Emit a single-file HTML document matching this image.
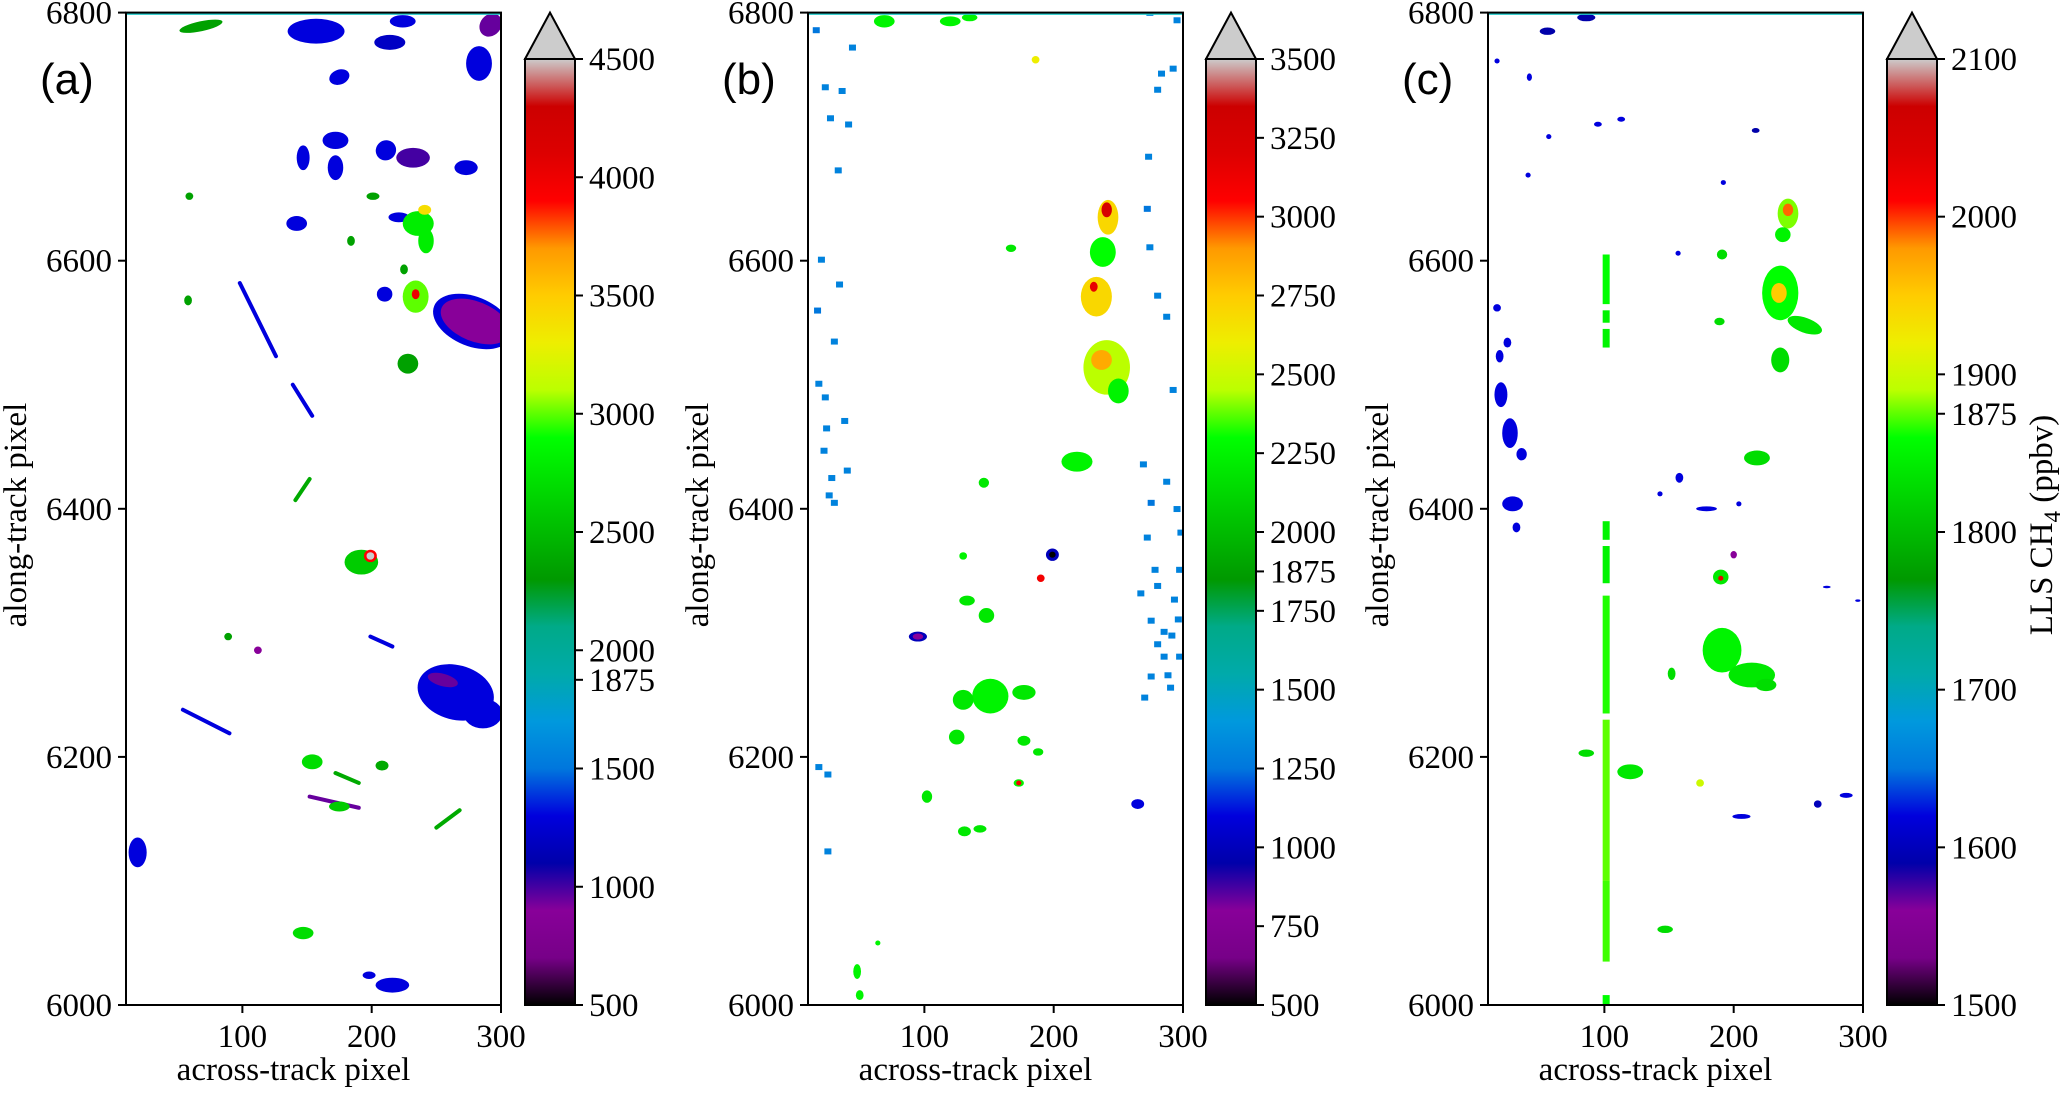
<!DOCTYPE html>
<html><head><meta charset="utf-8">
<style>
html,body{margin:0;padding:0;background:#fff;}
svg{display:block;}
svg text{font-family:'Liberation Serif', 'DejaVu Serif', serif;}
svg text.plab{font-family:'Liberation Sans', 'DejaVu Sans', sans-serif;}
</style></head>
<body>
<svg id="fig" width="2067" height="1096" viewBox="0 0 2067 1096" xmlns="http://www.w3.org/2000/svg">
<defs>
<linearGradient id="nipy" x1="0" y1="1" x2="0" y2="0">
<stop offset="0" stop-color="#000000"/><stop offset="0.05" stop-color="#770088"/><stop offset="0.10" stop-color="#880099"/>
<stop offset="0.15" stop-color="#0000aa"/><stop offset="0.20" stop-color="#0000dd"/><stop offset="0.25" stop-color="#0077dd"/>
<stop offset="0.30" stop-color="#0099dd"/><stop offset="0.35" stop-color="#00aaaa"/><stop offset="0.40" stop-color="#00aa88"/>
<stop offset="0.45" stop-color="#009900"/><stop offset="0.50" stop-color="#00bb00"/><stop offset="0.55" stop-color="#00dd00"/>
<stop offset="0.60" stop-color="#00ff00"/><stop offset="0.65" stop-color="#bbff00"/><stop offset="0.70" stop-color="#eeee00"/>
<stop offset="0.75" stop-color="#ffcc00"/><stop offset="0.80" stop-color="#ff9900"/><stop offset="0.85" stop-color="#ff0000"/>
<stop offset="0.90" stop-color="#dd0000"/><stop offset="0.95" stop-color="#cc0000"/><stop offset="1" stop-color="#cccccc"/>
</linearGradient>
</defs>
</svg>
<script>
// ---------- DATA (data units: across-track pixel, along-track pixel, value) ----------
// Panel (a) blobs: [x, y, rx, ry, angleDeg, value]
const blobsA = [
[68,6789,17,4,-12,2350],[157,6785,22,10,0,1300],[175,6748,8,6,-20,1300],[214,6776,12,6,0,1200],
[224,6793,10,5,0,1300],[292,6790,8,10,40,950],[283,6759,10,14,0,1300],[172,6697,10,7,0,1300],
[147,6683,5,10,0,1300],[172,6675,6,10,0,1300],[211,6689,8,8,-40,1300],[232,6683,13,8,0,1000],
[273,6675,9,6,0,1300],[142,6630,8,6,0,1300],[221,6635,8,4,0,1300],
[236,6630,12,10,0,2800],[241,6641,5,4,0,3400],[242,6616,6,10,0,2800],
[234,6571,10,13,0,3000],[234,6573,3,4,0,4000],[210,6573,6,6,0,1300],
[278,6551,32,20,22,1300],[280,6551,28,16,22,900],
[228,6517,8,8,0,2350],[265,6252,30,22,15,1300],[286,6235,15,12,0,1300],[255,6262,12,5,15,950],
[192,6357,13,10,0,2600],[199,6362,5,5,0,3900],[199,6362,3,3,0,4500],
[154,6196,8,6,0,2700],[208,6193,5,4,0,2400],[19,6123,7,12,0,1300],[147,6058,8,5,0,2700],
[216,6016,13,6,0,1300],[198,6024,5,3,0,1300],[112,6286,3,3,0,900],
[59,6652,3,3,0,2350],[58,6568,3,4,0,2350],[89,6297,3,3,0,2350],[225,6593,3,4,0,2350],
[184,6616,3,4,0,2350],[201,6652,5,3,0,2350],[175,6160,8,4,0,2600]
];
// Panel (a) streaks: [x1, y1, x2, y2, value]
const streaksA = [
[98,6582,126,6523,1300],[139,6500,154,6475,1300],[141,6407,152,6424,2400],[54,6238,90,6219,1300],
[199,6297,216,6289,1300],[152,6168,190,6159,950],[250,6143,268,6157,2400],[172,6187,190,6179,2400]
];
// Panel (b) blobs
const blobsB = [
[242,6635,8,14,0,2700],[241,6641,4,6,0,3250],[238,6607,10,12,0,2300],[233,6571,12,16,0,2700],
[231,6579,3,4,0,3150],[241,6514,18,22,0,2450],[237,6520,8,8,0,2850],[250,6495,8,10,0,2250],
[218,6438,12,8,0,2250],[199,6363,5,5,0,1000],[199,6363,2.5,2.5,0,500],[190,6344,3,3,0,3100],
[95,6297,7,4,0,1000],[95,6297,4,2.5,0,800],
[151,6249,14,14,0,2250],[130,6246,8,8,0,2200],[177,6252,9,6,0,2200],[125,6216,6,6,0,2200],
[148,6314,6,6,0,2200],[133,6326,6,4,0,2200],[177,6213,5,4,0,2200],[188,6204,4,3,0,2200],
[102,6168,4,5,0,2200],[131,6140,5,4,0,2200],[143,6142,5,3,0,2200],[146,6421,4,4,0,2200],
[167,6610,4,3,0,2200],[173,6179,4,3,0,2250],[173,6179,2,2,0,3100],[265,6162,5,4,0,1100],
[186,6762,3,3,0,2600],[69,6793,8,5,0,2250],[120,6793,8,4,0,2250],[135,6796,6,3,0,2250],
[48,6027,3,6,0,2250],[50,6008,3,4,0,2250],[64,6050,2,2,0,2250],[130,6362,3,3,0,2250]
];
// Panel (b) speckles: [x, y, value]
const specklesB = [
[23,6739,1300],[36,6736,1300],[27,6714,1300],[33,6672,1300],[17,6559,1250],[30,6534,1300],[23,6489,1300],
[24,6464,1300],[22,6446,1300],[28,6424,1300],[30,6404,1300],[16,6785,1250],[44,6771,1300],[41,6709,1300],
[25,6185,1300],[25,6123,1300],[18,6191,1300],[272,6641,1250],[274,6610,1300],[287,6554,1300],[280,6571,1300],
[275,6404,1250],[295,6399,1300],[272,6376,1300],[293,6326,1300],[275,6309,1300],[291,6297,1300],
[275,6264,1300],[290,6255,1300],[270,6247,1300],[280,6337,1300],[267,6331,1300],[292,6495,1300],
[280,6737,1300],[292,6754,1300],[295,6793,1300],[274,6799,1300],[273,6683,1300],[287,6421,1300],
[269,6435,1300],[297,6280,1300],[285,6280,1300],[297,6350,1300],[283,6750,1300],
[20,6600,1300],[34,6580,1300],[18,6500,1300],[38,6470,1300],[26,6410,1300],[40,6430,1300],
[285,6300,1300],[296,6310,1300],[280,6290,1300],[288,6265,1300],[278,6350,1300],[298,6380,1300]
];
// Panel (c) blobs
const blobsC = [
[242,6638,8,12,0,1880],[242,6641,4,5,0,1990],[238,6621,6,6,0,1850],[236,6574,14,22,0,1860],
[235,6574,6,8,0,1950],[255,6548,14,6,20,1840],[236,6520,7,10,0,1830],[218,6441,10,6,0,1830],
[190,6345,6,6,0,1840],[190,6344,2,2,0,2030],[200,6363,2.5,3,0,1560],
[191,6286,15,18,0,1850],[214,6266,18,10,0,1840],[225,6258,8,5,0,1830],[120,6188,10,6,0,1840],
[86,6203,6,3,0,1830],[174,6179,3,3,0,1900],[191,6605,4,4,0,1830],[189,6551,4,3,0,1830],
[147,6061,6,3,0,1830],[152,6267,3,5,0,1830],
[265,6162,3,3,0,1600],[287,6169,5,2,0,1620],[206,6152,7,2,0,1620],
[20,6492,5,10,0,1620],[27,6461,6,12,0,1620],[36,6444,4,5,0,1620],[29,6404,8,6,0,1620],
[19,6523,3,5,0,1620],[25,6534,3,4,0,1620],[17,6562,3,3,0,1620],[32,6385,3,4,0,1620],
[17,6761,2,2,0,1620],[42,6748,2,3,0,1620],[56,6785,6,3,0,1590],[86,6796,7,3,0,1590],
[95,6710,3,2,0,1620],[113,6714,3,2,0,1620],[57,6700,2,2,0,1620],[41,6669,2,2,0,1620],
[192,6663,2,2,0,1620],[217,6705,3,2,0,1590],[157,6606,2,2,0,1620],[158,6425,3,4,0,1620],
[179,6400,8,2,0,1620],[143,6412,2,2,0,1620],[204,6404,2,2,0,1620],[272,6337,3,1,0,1620],[296,6326,2,1,0,1620]
];
// Panel (c) vertical stripe segments: [x, y1, y2, value]
const stripeC = [
[101,6000,6008,1860],[101,6035,6100,1870],[101,6100,6230,1875],[101,6235,6330,1865],
[101,6340,6370,1850],[101,6375,6390,1850],[101,6530,6545,1850],[101,6550,6560,1850],[101,6565,6605,1860]
];
// Axis ticks
const xTicks = [100,200,300];
const yTicks = [6000,6200,6400,6600,6800];
const cbTicksA = [500,1000,1500,1875,2000,2500,3000,3500,4000,4500];
const cbTicksB = [500,750,1000,1250,1500,1750,1875,2000,2250,2500,2750,3000,3250,3500];
const cbTicksC = [1500,1600,1700,1800,1875,1900,2000,2100];

// ---------- colormap (nipy_spectral) ----------
const CM = [[0,0,0],[.467,0,.533],[.533,0,.6],[0,0,.667],[0,0,.867],[0,.467,.867],[0,.6,.867],[0,.667,.667],[0,.667,.533],[0,.6,0],[0,.733,0],[0,.867,0],[0,1,0],[.733,1,0],[.933,.933,0],[1,.8,0],[1,.6,0],[1,0,0],[.867,0,0],[.8,0,0],[.8,.8,.8]];
function cmap(f){f=Math.max(0,Math.min(1,f));const p=f*20,i=Math.min(19,Math.floor(p)),t=p-i;
 const c=CM[i].map((v,k)=>Math.round(255*(v+(CM[i+1][k]-v)*t)));return `rgb(${c[0]},${c[1]},${c[2]})`;}

const NS='http://www.w3.org/2000/svg';
const svg=document.getElementById('fig');
function el(tag,attrs,parent){const e=document.createElementNS(NS,tag);
 if(tag==='text'){e.setAttribute('fill','#000');e.setAttribute('style',"font-family:'Liberation Serif','DejaVu Serif',serif");}
 for(const k in attrs)e.setAttribute(k,attrs[k]);(parent||svg).appendChild(e);return e;}

const TOP=12.6,BOT=1005,PW=375,XMIN=10,XMAX=300,YMIN=6000,YMAX=6800;
const panels=[
 {id:'a',left:126,cb:525,vmin:500,vmax:4500,ticks:cbTicksA,blobs:blobsA,streaks:streaksA,speckles:[],stripe:[]},
 {id:'b',left:808,cb:1206,vmin:500,vmax:3500,ticks:cbTicksB,blobs:blobsB,streaks:[],speckles:specklesB,stripe:[]},
 {id:'c',left:1488,cb:1887,vmin:1500,vmax:2100,ticks:cbTicksC,blobs:blobsC,streaks:[],speckles:[],stripe:stripeC}
];
const CBW=50,CBTOP=59;

panels.forEach(P=>{
 const sx=v=>P.left+(v-XMIN)/(XMAX-XMIN)*PW;
 const sy=v=>BOT-(v-YMIN)/(YMAX-YMIN)*(BOT-TOP);
 const kx=PW/(XMAX-XMIN), ky=(BOT-TOP)/(YMAX-YMIN);
 const col=v=>cmap((v-P.vmin)/(P.vmax-P.vmin));
 const g=el('g',{});
 
 
 const cp=el('clipPath',{id:'clip'+P.id},g);
 el('rect',{x:P.left,y:TOP,width:PW,height:BOT-TOP},cp);
 const plot=el('g',{'clip-path':`url(#clip${P.id})`},g);
 
 
 P.stripe.forEach(s=>{
  const r=el('rect',{x:sx(s[0])-3,y:sy(s[2]),width:7,height:sy(s[1])-sy(s[2]),fill:col(s[3])},plot);
  
  
 });
 P.speckles.forEach(s=>{
  const r=el('rect',{x:sx(s[0])-3,y:sy(s[1])-4,width:7,height:6,fill:col(s[2])},plot);
  
  
 });
 P.streaks.forEach(s=>{
  const l=el('line',{x1:sx(s[0]),y1:sy(s[1]),x2:sx(s[2]),y2:sy(s[3]),stroke:col(s[4]),'stroke-width':4,'stroke-linecap':'round'},plot);
  
  
 });
 P.blobs.forEach(b=>{
  const cx=sx(b[0]),cy=sy(b[1]);
  const e=el('ellipse',{cx:cx,cy:cy,rx:b[2]*kx,ry:b[3]*ky,fill:col(b[5]),transform:`rotate(${b[4]} ${cx} ${cy})`},plot);
  
  
 });
 el('line',{x1:P.left,y1:TOP+1.5,x2:P.left+PW,y2:TOP+1.5,stroke:'#2cc','stroke-width':1.5},g);
 const fr=el('rect',{x:P.left,y:TOP,width:PW,height:BOT-TOP,fill:'none',stroke:'#000','stroke-width':2},g);
 
 
 xTicks.forEach(t=>{
  el('line',{x1:sx(t),y1:BOT,x2:sx(t),y2:BOT+8,stroke:'#000','stroke-width':2},g);
  const tx=el('text',{x:sx(t),y:BOT+42,'font-size':33,'text-anchor':'middle'},g);
  tx.textContent=t;
  
  
 });
 yTicks.forEach(t=>{
  el('line',{x1:P.left-8,y1:sy(t),x2:P.left,y2:sy(t),stroke:'#000','stroke-width':2},g);
  const tx=el('text',{x:P.left-14,y:sy(t)+11,'font-size':33,'text-anchor':'end'},g);
  tx.textContent=t;
  
  
 });
 const xl=el('text',{x:P.left+PW/2-20,y:1080,'font-size':33,'text-anchor':'middle'},g);
 xl.textContent='across-track pixel';
 
 
 const yx=P.left-100;
 const yl=el('text',{x:yx,y:515,'font-size':33,'text-anchor':'middle',transform:`rotate(-90 ${yx} 515)`},g);
 yl.textContent='along-track pixel';
 
 
 const pl=el('text',{x:P.left-86,y:94,'font-size':44,class:'plab'},g);
 pl.setAttribute('style',"font-family:'Liberation Sans','DejaVu Sans',sans-serif");
 pl.textContent='('+P.id+')';
 
 
 const cbg=el('g',{},g);
 
 
 el('rect',{x:P.cb,y:CBTOP,width:CBW,height:BOT-CBTOP,fill:'url(#nipy)'},cbg);
 el('polygon',{points:`${P.cb},${CBTOP} ${P.cb+CBW/2},${TOP} ${P.cb+CBW},${CBTOP}`,fill:'#cccccc',stroke:'#000','stroke-width':2},cbg);
 el('rect',{x:P.cb,y:CBTOP,width:CBW,height:BOT-CBTOP,fill:'none',stroke:'#000','stroke-width':2},cbg);
 const cy=v=>BOT-(v-P.vmin)/(P.vmax-P.vmin)*(BOT-CBTOP);
 P.ticks.forEach(t=>{
  el('line',{x1:P.cb+CBW,y1:cy(t),x2:P.cb+CBW+8,y2:cy(t),stroke:'#000','stroke-width':2},cbg);
  const tx=el('text',{x:P.cb+CBW+14,y:cy(t)+11,'font-size':33},cbg);
  tx.textContent=t;
  
  
 });
});
const cl=el('text',{x:2052,y:525,'font-size':33,'text-anchor':'middle',transform:'rotate(-90 2052 525)'});
cl.innerHTML='LLS CH<tspan font-size="23" dy="8">4</tspan><tspan dy="-8"> (ppbv)</tspan>';


</script>
</body></html>
